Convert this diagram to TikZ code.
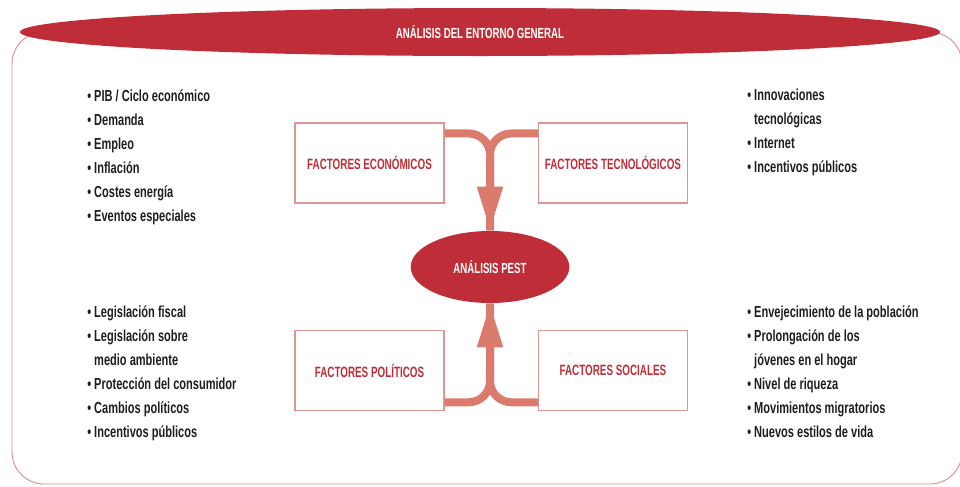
\documentclass[tikz,border=0pt]{standalone}
\usepackage{fontspec}
\setmainfont{Liberation Sans}[FakeStretch=0.69]
\newfontfamily\narrowfont{Liberation Sans}[FakeStretch=0.66]
\usetikzlibrary{positioning, shapes.geometric, arrows.meta}

\definecolor{pestred}{HTML}{BF2E38}
\definecolor{boxline}{HTML}{E29494}
\definecolor{flowcol}{HTML}{DA7B6E}
\definecolor{framecol}{HTML}{DC8E92}
\definecolor{listtext}{HTML}{1E1E1E}

\newcommand{\cont}{\hphantom{\textbullet\ }}

\begin{document}
\begin{tikzpicture}[x=0.75pt, y=-0.75pt,
	factor/.style={rectangle, draw=boxline, line width=0.8pt, minimum width=111.75pt, minimum height=60pt, inner sep=2pt, text=pestred, font=\narrowfont\bfseries\fontsize{11.2}{13}\selectfont},
	oval/.style={ellipse, fill=pestred, text=white, inner sep=0pt, font=\narrowfont\bfseries\fontsize{11}{13}\selectfont},
	items/.style={anchor=north west, align=left, inner sep=0pt, text=listtext, font=\bfseries\fontsize{12}{18}\selectfont},
	flow/.style={draw=flowcol, line width=6pt, rounded corners=16pt}]
		\useasboundingbox (0,0) rectangle (960,486);
		\draw [framecol, line width=0.7pt, rounded corners=24pt] (12,32) rectangle (962,484);
		\node [oval, minimum width=690pt, minimum height=36pt] (G) at (480,32) {ANÁLISIS DEL ENTORNO GENERAL};

		\node [factor] (E) at (369.5,163) {FACTORES ECONÓMICOS};
		\node [factor, right=70pt of E] (T) {FACTORES TECNOLÓGICOS};
		\node [factor, below=95pt of E] (P) {FACTORES POLÍTICOS};
		\node [factor, below=95pt of T] (S) {FACTORES SOCIALES};
		\node [oval, minimum width=119pt, minimum height=54pt] (A) at (490,267) {ANÁLISIS PEST};

		\draw [flow] ([yshift=-8.25pt]E.north east) -| (A.north);
		\draw [flow, -{Triangle[length=33pt, width=18pt]}] ([yshift=-8.25pt]T.north west) -| (A.north);
		\draw [flow] ([yshift=6.75pt]P.south east) -| (A.south);
		\draw [flow, -{Triangle[length=33pt, width=18pt]}] ([yshift=6.75pt]S.south west) -| (A.south);

		\node [items] (EL) at (87,89) {\textbullet\ PIB / Ciclo económico\\ \textbullet\ Demanda\\ \textbullet\ Empleo\\ \textbullet\ Inflación\\ \textbullet\ Costes energía\\ \textbullet\ Eventos especiales};
		\node [items] (TL) at (747,89) {\textbullet\ Innovaciones\\ \cont tecnológicas\\ \textbullet\ Internet\\ \textbullet\ Incentivos públicos};
		\node [items] (PL) at (87,305) {\textbullet\ Legislación fiscal\\ \textbullet\ Legislación sobre\\ \cont medio ambiente\\ \textbullet\ Protección del consumidor\\ \textbullet\ Cambios políticos\\ \textbullet\ Incentivos públicos};
		\node [items] (SL) at (747,305) {\textbullet\ Envejecimiento de la población\\ \textbullet\ Prolongación de los\\ \cont jóvenes en el hogar\\ \textbullet\ Nivel de riqueza\\ \textbullet\ Movimientos migratorios\\ \textbullet\ Nuevos estilos de vida};
	\end{tikzpicture}
\end{document}
